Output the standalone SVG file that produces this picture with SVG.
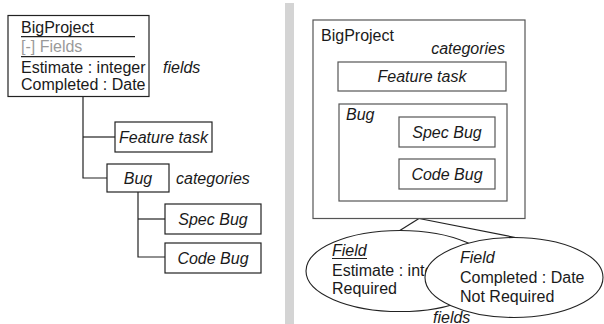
<svg xmlns="http://www.w3.org/2000/svg" width="604" height="324" viewBox="0 0 604 324">
<style>
text{font-family:"Liberation Sans",Arial,sans-serif;font-size:16px;fill:#1a1a1a}
.i{font-style:italic}
.g{fill:#9a9a9a}
.box{fill:#fff;stroke:#222;stroke-width:1.2}
.rbox{fill:#fff;stroke:#555;stroke-width:1.2}
.ln{fill:none;stroke:#222;stroke-width:1.2}
.ell{fill:#fff;stroke:#222;stroke-width:1.1}
</style>
<rect x="285" y="3" width="9" height="321" fill="#d4d4d4"/>
<g id="connectors">
<polyline class="ln" points="83,96 83,178 107,178"/>
<line class="ln" x1="83" y1="137" x2="115" y2="137"/>
<polyline class="ln" points="138,192 138,257 165,257"/>
<line class="ln" x1="138" y1="219" x2="165" y2="219"/>
<line class="ln" x1="419" y1="218.5" x2="399" y2="231"/>
<line class="ln" x1="419" y1="218.5" x2="518" y2="238"/>
</g>
<g id="left-bigproject">
<rect class="box" x="8" y="15.5" width="141" height="81"/>
<text x="21" y="33">BigProject</text>
<line class="ln" x1="21" y1="36.7" x2="135" y2="36.7"/>
<text class="g" x="21" y="51.5">[-] Fields</text>
<line class="ln" x1="21" y1="56.7" x2="135" y2="56.7"/>
<text x="21" y="73">Estimate : integer</text>
<text x="21" y="90">Completed : Date</text>
</g>
<g id="left-fields-label"><text class="i" x="163" y="73">fields</text></g>
<g id="left-feature">
<rect class="box" x="115" y="122" width="97" height="30"/>
<text class="i" x="163.5" y="142.5" text-anchor="middle">Feature task</text>
</g>
<g id="left-bug">
<rect class="box" x="107" y="164" width="62" height="28"/>
<text class="i" x="138" y="183.5" text-anchor="middle">Bug</text>
</g>
<g id="left-categories-label"><text class="i" x="176" y="183.5">categories</text></g>
<g id="left-specbug">
<rect class="box" x="165" y="204" width="96" height="30"/>
<text class="i" x="213" y="224.5" text-anchor="middle">Spec Bug</text>
</g>
<g id="left-codebug">
<rect class="box" x="165" y="243" width="96" height="30"/>
<text class="i" x="213" y="263.5" text-anchor="middle">Code Bug</text>
</g>
<g id="right-bigproject">
<rect class="rbox" x="313" y="20" width="212" height="198.5"/>
<text x="321" y="41">BigProject</text>
<text class="i" x="505" y="53.5" text-anchor="end">categories</text>
</g>
<g id="right-feature">
<rect class="rbox" x="338" y="62" width="168" height="29"/>
<text class="i" x="422" y="81.5" text-anchor="middle">Feature task</text>
</g>
<g id="right-bug">
<rect class="rbox" x="339" y="104" width="168" height="97"/>
<text class="i" x="346" y="120">Bug</text>
</g>
<g id="right-specbug">
<rect class="rbox" x="399" y="117" width="96" height="30"/>
<text class="i" x="447" y="137.5" text-anchor="middle">Spec Bug</text>
</g>
<g id="right-codebug">
<rect class="rbox" x="399" y="159" width="96" height="30"/>
<text class="i" x="447" y="179.5" text-anchor="middle">Code Bug</text>
</g>
<g id="field-estimate">
<ellipse class="ell" cx="400" cy="271" rx="94" ry="40.5"/>
<text class="i" x="332" y="256">Field</text>
<line class="ln" x1="332" y1="258.5" x2="367" y2="258.5"/>
<text x="332" y="276">Estimate : integer</text>
<text x="332" y="293.5">Required</text>
</g>
<g id="field-completed">
<ellipse class="ell" cx="514" cy="277.5" rx="89" ry="40"/>
<text class="i" x="460" y="263">Field</text>
<text x="460" y="282.5">Completed : Date</text>
<text x="460" y="302">Not Required</text>
</g>
<g id="right-fields-label"><text class="i" x="433" y="322.5">fields</text></g>
</svg>
